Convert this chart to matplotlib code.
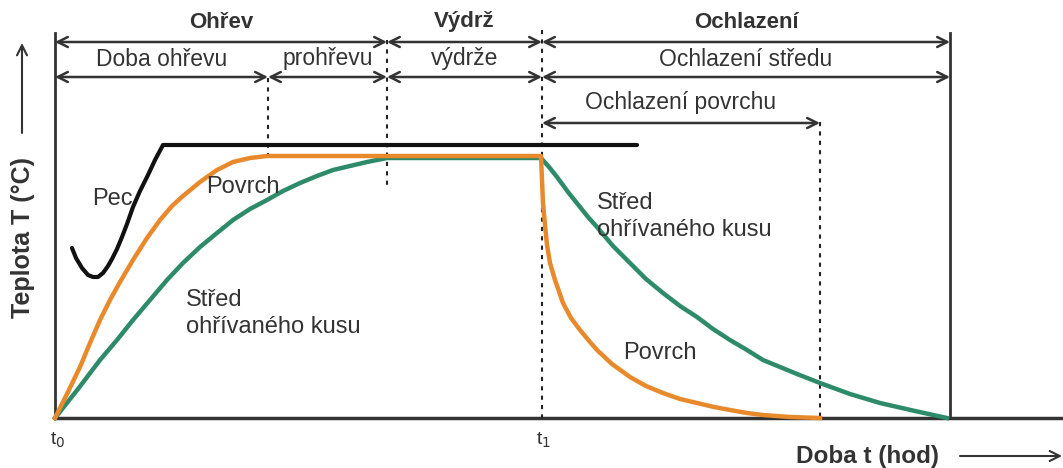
import numpy as np
import matplotlib.pyplot as plt

plt.rcParams['font.family'] = ['Liberation Sans', 'DejaVu Sans']

ORANGE = '#e8892b'
GREEN = '#2e8b6a'
INK = '#333333'

# curves (x = time, y = drawing height from top)
pec_x = [72, 76, 82, 88, 93, 98, 103, 108, 112, 117, 122, 127, 133, 140, 148, 155, 163, 637]
pec_y = [248, 258, 268, 275, 277, 277, 273, 266, 259, 249, 237, 224, 207, 191, 175, 160, 145, 145]

povrch_x = [55, 67, 80, 90, 100, 110, 120, 133, 147, 160, 172, 183, 200, 217, 233, 250, 267,
            541, 542, 543, 545, 547, 550, 555, 563, 571, 580, 590, 597, 612, 630, 646,
            663, 680, 697, 714, 730, 747, 763, 790, 820]
povrch_y = [418, 394, 367, 343, 320, 300, 282, 260, 238, 220, 206, 196, 182, 170, 162, 158, 156,
            156, 180, 203, 225, 245, 263, 280, 303, 318, 330, 342, 350, 364, 377, 386,
            393, 399, 403, 407, 410, 413, 415, 417, 418]

stred_x = [55, 78, 100, 117, 133, 150, 167, 183, 200, 217, 233, 250, 267, 283, 300, 317,
           333, 350, 367, 387,
           541, 549, 557, 568, 580, 588, 597, 613, 630, 646, 663, 680, 697, 713, 730,
           747, 763, 780, 797, 820, 850, 880, 915, 947]
stred_y = [418, 389, 360, 340, 320, 300, 280, 263, 247, 233, 220, 209, 200, 191, 183, 176,
           170, 166, 162, 158,
           158, 167, 177, 192, 207, 217, 227, 246, 263, 279, 293, 306, 317, 329, 340,
           350, 360, 367, 374, 383, 394, 403, 411, 418]

# phase boundaries
x0, x_prohrev, x_vydrz, x1, x_povrch, x_end = 55, 268, 387, 542, 820, 950

row1 = [(x0, x_vydrz, 'Ohřev'), (x_vydrz, x1, 'Výdrž'), (x1, x_end, 'Ochlazení')]
row2 = [(x0, x_prohrev, 'Doba ohřevu'), (x_prohrev, x_vydrz, 'prohřevu'),
        (x_vydrz, x1, 'výdrže'), (x1, x_end, 'Ochlazení středu')]
row3 = [(x1, x_povrch, 'Ochlazení povrchu')]

fig = plt.figure(figsize=(10.63, 4.68), dpi=100)
ax = fig.add_axes([0, 0, 1, 1])
ax.set_xlim(0, 1063)
ax.set_ylim(468, 0)
ax.axis('off')

# frame
ax.plot([x0, x0], [33, 418], color=INK, lw=2)
ax.plot([x_end, x_end], [33, 418], color=INK, lw=2)
ax.plot([x0, 1063], [418, 418], color=INK, lw=2.5)

# dotted guides
dot = dict(color='#222222', lw=1.5, ls=(0, (2, 2.5)))
ax.plot([x_prohrev, x_prohrev], [78, 155], **dot)
ax.plot([x_vydrz, x_vydrz], [40, 185], **dot)
ax.plot([x1, x1], [30, 418], **dot)
ax.plot([x_povrch, x_povrch], [122, 418], **dot)

arrow = dict(arrowstyle='<->', color=INK, lw=1.8, mutation_scale=18,
             shrinkA=0, shrinkB=0)

def dim_row(items, y, ty, bold=False):
    for a, b, lab in items:
        ax.annotate('', xy=(a, y), xytext=(b, y), arrowprops=arrow)
        ax.text((a + b) / 2, ty, lab, ha='center', va='center',
                fontsize=16 if bold else 16.5,
                fontweight='bold' if bold else 'normal', color=INK)

dim_row(row1, 42, 22, bold=True)
dim_row(row2, 77, 59)
dim_row(row3, 123, 103)

# curves
ax.plot(pec_x, pec_y, color='#111111', lw=3, solid_joinstyle='round', solid_capstyle='round')
ax.plot(stred_x, stred_y, color=GREEN, lw=3.2, solid_joinstyle='round')
ax.plot(povrch_x, povrch_y, color=ORANGE, lw=3.2, solid_joinstyle='round')

# curve labels
txt = dict(fontsize=17, color=INK, va='center', ha='left')
ax.text(92, 199, 'Pec', **txt)
ax.text(206, 187, 'Povrch', **txt)
ax.text(186, 300, 'Střed', **txt)
ax.text(186, 327, 'ohřívaného kusu', **txt)
ax.text(597, 203, 'Střed', **txt)
ax.text(597, 230, 'ohřívaného kusu', **txt)
ax.text(623, 353, 'Povrch', **txt)

# time marks
ax.text(58, 440, 't$_0$', fontsize=14, color=INK, ha='center', va='center')
ax.text(543, 440, 't$_1$', fontsize=14, color=INK, ha='center', va='center')

# axis titles
ax.text(868, 456, 'Doba t (hod)', fontsize=17.5, fontweight='bold', color=INK,
        ha='center', va='center')
ax.annotate('', xy=(1062, 456), xytext=(960, 456),
            arrowprops=dict(arrowstyle='->', color=INK, lw=1.5, mutation_scale=18,
                            shrinkA=0, shrinkB=0))
ax.text(23, 237, 'Teplota T (°C)', fontsize=18, fontweight='bold', color=INK,
        rotation=90, ha='center', va='center')
ax.annotate('', xy=(22, 43), xytext=(22, 133),
            arrowprops=dict(arrowstyle='->', color=INK, lw=1.5, mutation_scale=18,
                            shrinkA=0, shrinkB=0))

fig.savefig('out.png', dpi=100)
